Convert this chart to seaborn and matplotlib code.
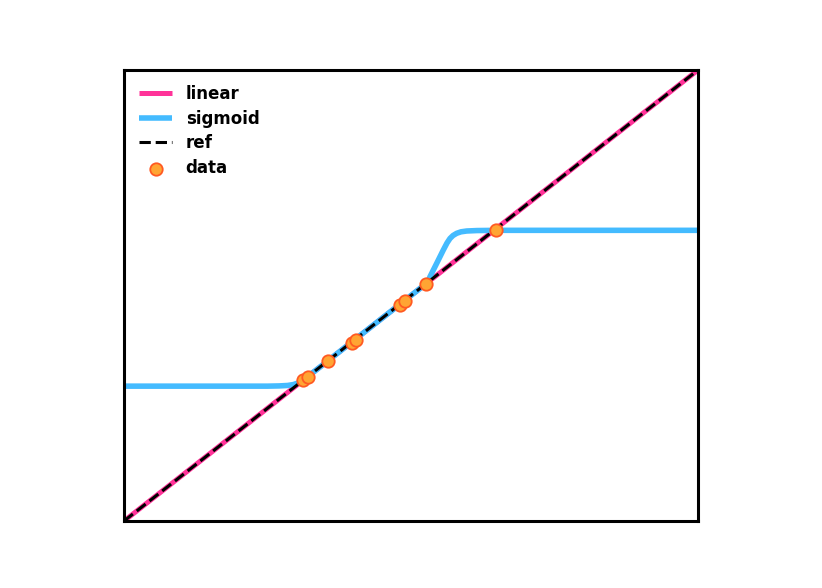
import numpy as np
import pandas as pd
import matplotlib
matplotlib.use("Agg")
import matplotlib.pyplot as plt
import seaborn as sns

# reference diagonal
ref_x = [0.0, 1.0]
ref_y = [0.0, 1.0]

# sigmoid curve
sig_x = [0.0, 0.25, 0.27, 0.285, 0.295, 0.303, 0.312, 0.40, 0.5276, 0.5305,
         0.5331, 0.5448, 0.5563, 0.5627, 0.5679, 0.5732, 0.5796, 0.5871,
         0.5970, 0.615, 0.65, 1.0]
sig_y = [0.299, 0.299, 0.2995, 0.3005, 0.3025, 0.306, 0.312, 0.40, 0.5276, 0.5335,
         0.5417, 0.5714, 0.6009, 0.6164, 0.6264, 0.6330, 0.6379, 0.6412,
         0.6430, 0.644, 0.6445, 0.6445]

# data points
pts_x = [0.312, 0.321, 0.356, 0.397, 0.404, 0.480, 0.490, 0.527, 0.648]
pts_y = [0.3126, 0.3186, 0.354, 0.395, 0.401, 0.478, 0.488, 0.5255, 0.645]

sns.set_style("white")
plt.rcParams['font.family'] = ['DejaVu Sans']
plt.rcParams['text.color'] = 'black'

fig = plt.figure(figsize=(8.22, 5.88), dpi=100)
ax = fig.add_axes([124 / 822, 67 / 588, 574 / 822, 451 / 588])

sns.lineplot(x=ref_x, y=ref_y, color="#ff3399", linewidth=3.6, label="linear",
             solid_capstyle="butt", ax=ax)
sns.lineplot(x=sig_x, y=sig_y, color="#44bbff", linewidth=4.0, label="sigmoid",
             sort=False, solid_capstyle="butt", solid_joinstyle="round", ax=ax)
sns.lineplot(x=ref_x, y=ref_y, color="black", linewidth=2.2, linestyle="--",
             dash_capstyle="butt", label="ref", ax=ax)
sns.scatterplot(x=pts_x, y=pts_y, color="#ffa533", edgecolor="#ff5a22",
                linewidth=1.3, s=80, label="data", zorder=5, ax=ax)

ax.set_xlim(0, 1)
ax.set_ylim(0, 1)
ax.set_xticks([])
ax.set_yticks([])
for sp in ax.spines.values():
    sp.set_color("black")
    sp.set_linewidth(2.2)

leg = ax.legend(loc="upper left", frameon=False, labelspacing=0.4,
                prop={"weight": "bold", "size": 12})

fig.savefig("out.png", dpi=100)
